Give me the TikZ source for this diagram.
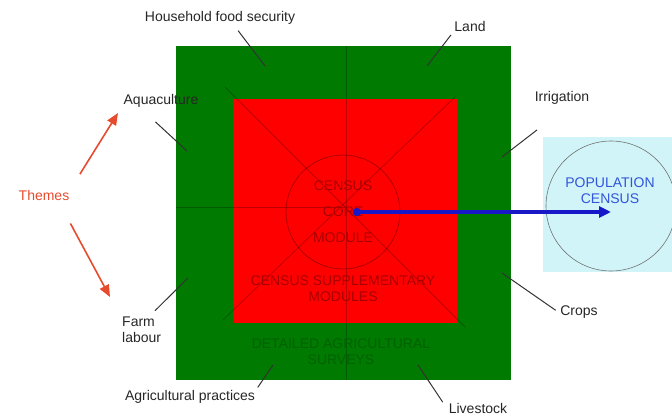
\documentclass[tikz,border=0pt]{standalone}
\usepackage{fontspec}
\setmainfont{Liberation Sans}
\usetikzlibrary{arrows.meta}
\definecolor{boxgreen}{RGB}{0,122,0}
\definecolor{boxred}{RGB}{255,0,0}
\definecolor{popcyan}{RGB}{208,244,248}
\definecolor{arrowblue}{RGB}{24,24,200}
\definecolor{popblue}{RGB}{50,85,220}
\definecolor{themered}{RGB}{230,75,45}
\begin{document}
\begin{tikzpicture}[x=1pt,y=-1pt,
		lbltext/.style={font=\fontsize{14}{16}\selectfont, text=black!85, inner sep=2pt},
		coretext/.style={font=\fontsize{14}{16}\selectfont, text=red!66!black, inner sep=0pt},
		lead/.style={draw=black!80, line width=1pt},
		faint/.style={draw=black, opacity=0.25, line width=0.8pt},
		themearrow/.style={draw=themered, line width=1.6pt, -{Triangle[length=12pt,width=10pt]}, themered}
		]
		\useasboundingbox (0,0) rectangle (672,415);
		% the two squares and the census panel
		\fill[boxgreen] (176,46) rectangle (511,380);
		\fill[boxred] (233,99) rectangle (457,323);
		\fill[popcyan] (543,137) rectangle (672,272);
		
		\draw[faint] (346,46) -- (346,380);
		\draw[faint] (176,207) -- (346,207);
		\draw[faint] (225,87) -- (465,327);
		\draw[faint] (455,97) -- (223,320);
		
		\node[circle, draw=black, draw opacity=0.3, line width=0.8pt, minimum size=114pt](C1) at (343,212){};
		\node[coretext](K1) at (343,186){CENSUS};
		\node[coretext, below of = K1, yshift = 2.5pt](K2){CORE};
		\node[coretext, below of = K2, yshift = 2.5pt](K3){MODULE};
		\node[coretext, align=center](K4) at (343,289){CENSUS SUPPLEMENTARY\\MODULES};
		\node[coretext, text=boxgreen!80!black, align=center](K5) at (341,352){DETAILED AGRICULTURAL\\SURVEYS};
		
		\node[circle, draw=black!55, line width=0.6pt, minimum size=130pt](P1) at (611,206){};
		\node[font=\fontsize{14}{16}\selectfont, text=popblue, align=center, inner sep=0pt](P2) at (610,191){POPULATION\\CENSUS};
		
		\draw[{Circle[length=8pt]}-{Triangle[length=12pt,width=11pt]}, arrowblue, line width=3.5pt,
		shorten <=10pt] (C1.center) -- (C1.center -| P1.center);
		
		% themes round the square
		\node[lbltext](L1) at (220,18){Household food security};
		\node[lbltext](L2) at (470,26){Land};
		\node[lbltext](L3) at (562,98){Irrigation};
		\node[lbltext](L4) at (161,101){Aquaculture};
		\node[lbltext, align=left, anchor=west](L5) at (120,330){Farm\\labour};
		\node[lbltext](L6) at (190,397){Agricultural practices};
		\node[lbltext](L7) at (579,312){Crops};
		\node[lbltext](L8) at (478,408){Livestock};
		
		\coordinate (E1) at (265,66);
		\coordinate (E2) at (427,66);
		\coordinate (E3) at (502,157);
		\coordinate (E4) at (187,151);
		\coordinate (E5) at (188,278);
		\coordinate (E6) at (273,365);
		\coordinate (E7) at (502,273);
		\coordinate (E8) at (418,365);
		
		\draw[lead, shorten <=5pt] (L1.-30) -- (E1);
		\draw[lead, shorten <=2pt] (L2.south west) -- (E2);
		\draw[lead, shorten <=38pt] (L3.-60) -- (E3);
		\draw[lead, shorten <=18pt] (L4.-155) -- (E4);
		\draw[lead, shorten <=6pt] (L5.59) -- (E5);
		\draw[lead, shorten <=1pt] (L6.north east) -- (E6);
		\draw[lead, shorten <=3pt] (L7.west) -- (E7);
		\draw[lead, shorten <=7pt] (L8.west) -- (E8);
		
		\node[lbltext, text=themered](T1) at (44,195){Themes};
		\coordinate (A1) at (118,113);
		\coordinate (A2) at (110,297);
		\draw[themearrow, shorten <=16pt] (T1.north east) -- (A1);
		\draw[themearrow, shorten <=24pt] (T1.-26) -- (A2);
	\end{tikzpicture}
\end{document}
